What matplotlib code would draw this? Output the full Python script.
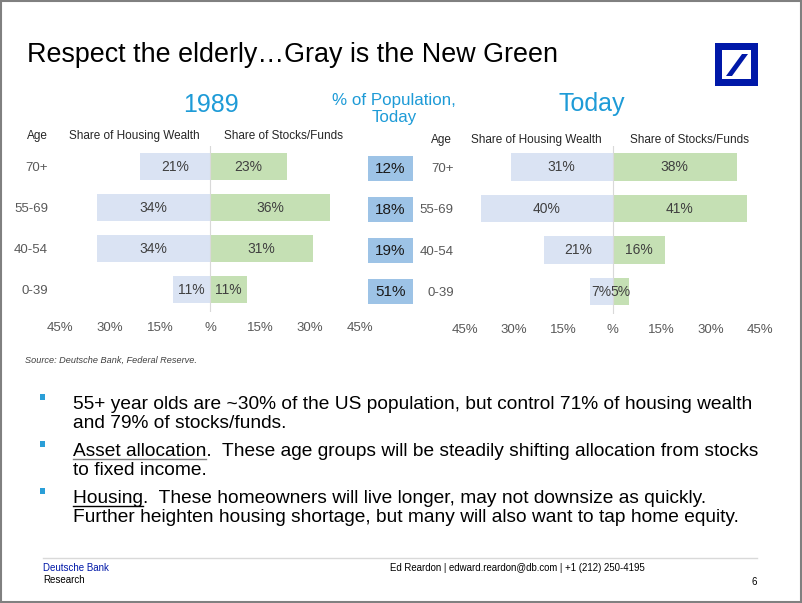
import matplotlib
matplotlib.use('Agg')
import matplotlib.pyplot as plt
from matplotlib.patches import Rectangle, Polygon
from matplotlib.lines import Line2D

# data
ages = ['70+', '55-69', '40-54', '0-39']
housing_1989 = [21, 34, 34, 11]
stocks_1989 = [23, 36, 31, 11]
housing_today = [31, 40, 21, 7]
stocks_today = [38, 41, 16, 5]
pop_today = [12, 18, 19, 51]
tick_vals = [-45, -30, -15, 0, 15, 30, 45]
tick_labels = ['45%', '30%', '15%', '%', '15%', '30%', '45%']

bullets = [
    ["55+ year olds are ~30% of the US population, but control 71% of housing wealth",
     "and 79% of stocks/funds."],
    ["Asset allocation.  These age groups will be steadily shifting allocation from stocks",
     "to fixed income."],
    ["Housing.  These homeowners will live longer, may not downsize as quickly.",
     "Further heighten housing shortage, but many will also want to tap home equity."],
]
underlined = [None, 'Asset allocation', 'Housing']

plt.rcParams['font.family'] = ['Liberation Sans', 'DejaVu Sans']

W, H = 802, 603
fig = plt.figure(figsize=(W / 100, H / 100), dpi=100)
fig.patch.set_facecolor('white')

BLUE = '#1E9BD7'
DB_BLUE = '#0018A8'
HOUSE_C = '#DAE3F3'
STOCK_C = '#C5E0B4'
POP_C = '#9DC3E6'
GRAY_TXT = '#595959'


def fx(x):
    return x / W


def fy(y):
    return 1 - y / H


def box(left, top, right, bottom):
    return [fx(left), fy(bottom), (right - left) / W, (bottom - top) / H]


# frame
fig.add_artist(Rectangle((0.001, 0.001), 0.998, 0.997, transform=fig.transFigure,
                         fill=False, edgecolor='#808080', lw=1.5))

# title
fig.text(fx(27), fy(62), 'Respect the elderly\u2026Gray is the New Green',
         fontsize=19.4, va='baseline', ha='left', color='black')

# logo
fig.add_artist(Rectangle((fx(715), fy(86)), 43 / W, 43 / H, transform=fig.transFigure,
                         color=DB_BLUE, lw=0))
fig.add_artist(Rectangle((fx(722), fy(79)), 29 / W, 29 / H, transform=fig.transFigure,
                         color='white', lw=0))
fig.add_artist(Polygon([(fx(726), fy(76)), (fx(732), fy(76)), (fx(748), fy(54)),
                        (fx(742), fy(54))], closed=True, transform=fig.transFigure,
                       color=DB_BLUE, lw=0))

# panel titles
fig.text(fx(211), fy(105), '1989', fontsize=18, color=BLUE, ha='center', va='center')
fig.text(fx(592), fy(104), 'Today', fontsize=18, color=BLUE, ha='center', va='center')
fig.text(fx(394), fy(109), '% of Population,\nToday', fontsize=12.2, color=BLUE,
         ha='center', va='center', linespacing=1.2)


def pyramid(rect, housing, stocks, pad, hdr_y, age_x, house_x, stock_x):
    ax = fig.add_axes(rect)
    y = list(range(len(ages)))
    ax.barh(y, [-v for v in housing], height=0.66, color=HOUSE_C, lw=0)
    ax.barh(y, stocks, height=0.66, color=STOCK_C, lw=0)
    for i in y:
        ax.text(-housing[i] / 2, i, f'{housing[i]}%', ha='center', va='center',
                fontsize=10, color='#404040')
        ax.text(stocks[i] / 2, i, f'{stocks[i]}%', ha='center', va='center',
                fontsize=10, color='#404040')
    ax.axvline(0, color='#D9D9D9', lw=0.8)
    ax.set_xlim(-45, 45)
    ax.set_ylim(3.54, -0.51)
    ax.set_xticks(tick_vals)
    ax.set_xticklabels(tick_labels)
    ax.set_yticks(y)
    ax.set_yticklabels(ages)
    ax.tick_params(axis='x', length=0, pad=7, labelsize=9.5, labelcolor=GRAY_TXT)
    ax.tick_params(axis='y', length=0, pad=pad, labelsize=9.5, labelcolor=GRAY_TXT)
    for s in ax.spines.values():
        s.set_visible(False)
    ax.patch.set_alpha(0)
    fig.text(fx(age_x), fy(hdr_y), 'Age', fontsize=8.5, ha='center', va='center', color='#262626')
    fig.text(fx(house_x), fy(hdr_y), 'Share of Housing Wealth', fontsize=8.5, ha='center',
             va='center', color='#262626')
    fig.text(fx(stock_x), fy(hdr_y), 'Share of Stocks/Funds', fontsize=8.5, ha='center',
             va='center', color='#262626')
    return ax


pyramid(box(60, 146, 360, 312), housing_1989, stocks_1989, 8.6, 136, 37, 134, 284)
pyramid(box(465, 146, 760, 314), housing_today, stocks_today, 8.0, 140, 441, 536, 690)

# population column
axp = fig.add_axes(box(368, 148, 413, 314))
yp = list(range(len(pop_today)))
axp.barh(yp, [1] * len(yp), height=0.61, color=POP_C, lw=0)
for i in yp:
    axp.text(0.5, i, f'{pop_today[i]}%', ha='center', va='center', fontsize=11,
             color='#1A1A1A')
axp.set_xlim(0, 1)
axp.set_ylim(3.54, -0.51)
axp.axis('off')

# source
fig.text(fx(25), fy(360), 'Source: Deutsche Bank, Federal Reserve.', fontsize=6.6,
         style='italic', color='#404040', va='center')

# bullets
fig.canvas.draw()
renderer = fig.canvas.get_renderer()
baselines = [[409, 428], [456, 475], [503, 522]]
for k, lines in enumerate(bullets):
    b0 = baselines[k][0]
    fig.add_artist(Rectangle((fx(40), fy(b0 - 9)), 5 / W, 6 / H,
                             transform=fig.transFigure, color='#2A9FD8', lw=0))
    for j, ln in enumerate(lines):
        fig.text(fx(73), fy(baselines[k][j]), ln, fontsize=13.8, va='baseline', ha='left',
                 color='black')
    if underlined[k]:
        t = fig.text(fx(73), fy(b0), underlined[k], fontsize=13.8, va='baseline',
                     ha='left', alpha=0)
        bb = t.get_window_extent(renderer)
        uy = fy(b0 + 2.5)
        ucol = '#7F7F7F' if k == 1 else 'black'
        fig.add_artist(Line2D([bb.x0 / W, bb.x1 / W], [uy, uy], transform=fig.transFigure,
                              color=ucol, lw=1))

# footer
fig.add_artist(Line2D([fx(43), fx(757)], [fy(558), fy(558)], transform=fig.transFigure,
                      color='#D9D9D9', lw=1))
fig.text(fx(43), fy(568), 'Deutsche Bank', fontsize=7, color=DB_BLUE, va='center')
fig.text(fx(43), fy(580), 'Research', fontsize=7, color='black', va='center')
fig.text(fx(390), fy(568), 'Ed Reardon | edward.reardon@db.com | +1 (212) 250-4195',
         fontsize=6.9, color='black', va='center')
fig.text(fx(757), fy(582), '6', fontsize=7, color='black', va='center', ha='right')

fig.savefig('out.png', dpi=100)
